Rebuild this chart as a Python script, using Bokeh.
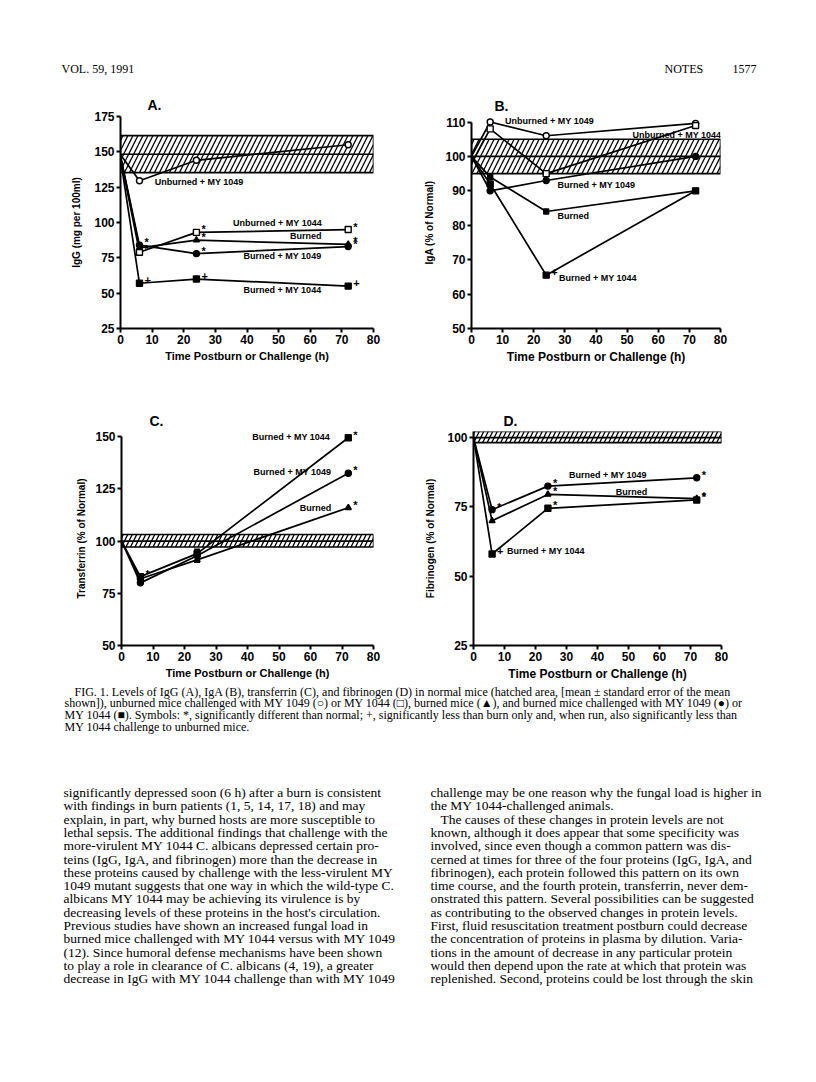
from bokeh.plotting import figure
from bokeh.models import Range1d, FixedTicker
from bokeh.layouts import column, row
from bokeh.embed import file_html
from bokeh.resources import INLINE
from bokeh.core.properties import value

# ---------------- data ----------------
TIME = [0, 6, 24, 72]
X_TICKS = [0, 10, 20, 30, 40, 50, 60, 70, 80]

# Panel A: IgG (mg per 100ml)
A_unb1049 = [148, 129.5, 144, 155]
A_unb1044 = [146, 79, 93, 95]
A_burned = [147, 82, 87.5, 84.5]
A_b1049 = [147, 84, 78, 83]
A_b1044 = [145, 57, 60, 55]
A_normal = [135.3, 148.3, 161.5]      # low, mean, high
A_sig_unb1044 = ["", "*", "*", "*"]
A_sig_burned = ["", "", "*", "*"]
A_sig_b1049 = ["", "*", "*", "*"]
A_sig_b1044 = ["", "+", "+", "+"]
A_yticks = [25, 50, 75, 100, 125, 150, 175]

# Panel B: IgA (% of Normal)
B_unb1049 = [100, 110, 106, 109.6]
B_unb1044 = [98, 108, 95, 109]
B_burned = [100, 94, 84, 90]
B_b1049 = [100, 90, 93, 100]
B_b1044 = [100, 92, 65.5, 90]
B_normal = [95, 100, 105]
B_sig_b1044 = ["", "", "+", ""]
B_yticks = [50, 60, 70, 80, 90, 100, 110]

# Panel C: Transferrin (% of Normal)
C_burned = [100, 82, 91, 116]
C_b1049 = [100, 80, 93, 132.5]
C_b1044 = [100, 83, 94, 149.5]
C_burned_err = [90, 96]               # s.e. bar at 24 h
C_normal = [97.2, 100, 103.2]
C_sig_burned = ["", "", "", "*"]
C_sig_b1049 = ["", "", "", "*"]
C_sig_b1044 = ["", "*", "", "*"]
C_yticks = [50, 75, 100, 125, 150]

# Panel D: Fibrinogen (% of Normal)
D_burned = [100, 70, 79.5, 78]
D_b1049 = [100, 74, 82.5, 85.5]
D_b1044 = [100, 58, 74.5, 77.5]
D_normal = [98.2, 100, 102.2]
D_sig_burned = ["", "", "*", "*"]
D_sig_b1049 = ["", "*", "*", "*"]
D_sig_b1044 = ["", "+", "*", "*"]
D_yticks = [25, 50, 75, 100]

XTITLE = "Time Postburn or Challenge (h)"

HEADER_LEFT = "VOL. 59, 1991"
HEADER_MID = "NOTES"
HEADER_PAGE = "1577"

CAPTION = [
    "FIG. 1.  Levels of IgG (A), IgA (B), transferrin (C), and fibrinogen (D) in normal mice (hatched area, [mean \u00b1 standard error of the mean",
    "shown]), unburned mice challenged with MY 1049 (\u25cb) or MY 1044 (\u25a1), burned mice (\u25b2), and burned mice challenged with MY 1049 (\u25cf) or",
    "MY 1044 (\u25a0). Symbols: *, significantly different than normal; +, significantly less than burn only and, when run, also significantly less than",
    "MY 1044 challenge to unburned mice.",
]

BODY_LEFT = [
    "significantly depressed soon (6 h) after a burn is consistent",
    "with findings in burn patients (1, 5, 14, 17, 18) and may",
    "explain, in part, why burned hosts are more susceptible to",
    "lethal sepsis. The additional findings that challenge with the",
    "more-virulent MY 1044 C. albicans depressed certain pro-",
    "teins (IgG, IgA, and fibrinogen) more than the decrease in",
    "these proteins caused by challenge with the less-virulent MY",
    "1049 mutant suggests that one way in which the wild-type C.",
    "albicans MY 1044 may be achieving its virulence is by",
    "decreasing levels of these proteins in the host's circulation.",
    "Previous studies have shown an increased fungal load in",
    "burned mice challenged with MY 1044 versus with MY 1049",
    "(12). Since humoral defense mechanisms have been shown",
    "to play a role in clearance of C. albicans (4, 19), a greater",
    "decrease in IgG with MY 1044 challenge than with MY 1049",
]

BODY_RIGHT = [
    "challenge may be one reason why the fungal load is higher in",
    "the MY 1044-challenged animals.",
    "The causes of these changes in protein levels are not",
    "known, although it does appear that some specificity was",
    "involved, since even though a common pattern was dis-",
    "cerned at times for three of the four proteins (IgG, IgA, and",
    "fibrinogen), each protein followed this pattern on its own",
    "time course, and the fourth protein, transferrin, never dem-",
    "onstrated this pattern. Several possibilities can be suggested",
    "as contributing to the observed changes in protein levels.",
    "First, fluid resuscitation treatment postburn could decrease",
    "the concentration of proteins in plasma by dilution. Varia-",
    "tions in the amount of decrease in any particular protein",
    "would then depend upon the rate at which that protein was",
    "replenished. Second, proteins could be lost through the skin",
]
BODY_RIGHT_INDENT = [0, 0, 1, 0, 0, 0, 0, 0, 0, 0, 0, 0, 0, 0, 0]   # paragraph starts

SANS = "Liberation Sans"
SERIF = "Liberation Serif"


# ---------------- helpers ----------------
def panel(width, height, yr, ybounds, borders, title, title_offset, title_standoff,
          ytitle, yticks, ylab_standoff, xtitle_size):
    left, right, top, bottom = borders
    p = figure(width=width, height=height, x_range=Range1d(0, 80), y_range=Range1d(*yr),
               output_backend="svg", toolbar_location=None,
               min_border_left=left, min_border_right=right,
               min_border_top=top, min_border_bottom=bottom)
    p.grid.visible = False
    p.outline_line_color = None
    p.background_fill_color = "white"
    p.border_fill_color = "white"
    p.xaxis.ticker = FixedTicker(ticks=X_TICKS)
    p.yaxis.ticker = FixedTicker(ticks=yticks)
    p.yaxis.bounds = ybounds
    for ax in p.axis:
        ax.axis_line_width = 2
        ax.axis_line_color = "black"
        ax.major_tick_line_width = 2
        ax.major_tick_line_color = "black"
        ax.major_tick_in = 0
        ax.major_tick_out = 4
        ax.minor_tick_line_color = None
        ax.major_label_text_font = SANS
        ax.major_label_text_font_size = "12px"
        ax.major_label_text_font_style = "bold"
        ax.major_label_text_color = "black"
        ax.major_label_standoff = 2
        ax.axis_label_text_font = SANS
        ax.axis_label_text_font_style = "bold"
        ax.axis_label_text_color = "black"
    p.xaxis.axis_label = XTITLE
    p.xaxis.axis_label_text_font_size = xtitle_size
    p.xaxis.axis_label_standoff = 3
    p.yaxis.axis_label = ytitle
    p.yaxis.axis_label_text_font_size = "10px"
    p.yaxis.axis_label_standoff = ylab_standoff
    p.title.text = title
    p.title.align = "left"
    p.title.offset = title_offset
    p.title.standoff = title_standoff
    p.title.text_font = SANS
    p.title.text_font_size = "14px"
    p.title.text_font_style = "bold"
    p.title.text_color = "black"
    return p


def band(p, lo_mean_hi, hatch_scale):
    lo, mean, hi = lo_mean_hi
    p.quad(left=[0], right=[80], bottom=[lo], top=[hi], fill_color="white",
           line_color="black", line_width=1.6, hatch_pattern="/",
           hatch_color="black", hatch_weight=1.3, hatch_scale=hatch_scale)
    p.segment(x0=[0], x1=[80], y0=[mean], y1=[mean], line_color="black", line_width=1.6)


def series(p, ys, marker, filled, sig=None, dx=5, dy=-3, size=6):
    p.line(TIME, ys, line_color="black", line_width=1.7)
    p.scatter(TIME[1:], ys[1:], marker=marker, size=size, line_color="black",
              line_width=1.4, fill_color="black" if filled else "white")
    if sig:
        p.text(TIME, ys, text=sig, x_offset=dx, y_offset=dy, text_font=value(SANS),
               text_font_size="11px", text_font_style="bold", text_color="black",
               text_baseline="middle", text_align="left")


def label(p, x, y, txt):
    p.text(x=[x], y=[y], text=[txt], text_font=value(SANS), text_font_size="9px",
           text_font_style="bold", text_color="black", text_baseline="middle",
           text_align="left")


def text_fig(w, h):
    p = figure(width=w, height=h, x_range=Range1d(0, w), y_range=Range1d(h, 0),
               x_axis_type=None, y_axis_type=None, output_backend="svg",
               toolbar_location=None, min_border=0)
    p.grid.visible = False
    p.outline_line_color = None
    return p


def lines(p, xs, ys, texts, size, font=SERIF):
    p.text(x=xs, y=ys, text=texts, text_font=value(font), text_font_size=size,
           text_color="black", text_baseline="middle", text_align="left")


# ---------------- header ----------------
hdr = text_fig(800, 84)
lines(hdr, [61], [68], [HEADER_LEFT], "12px")
lines(hdr, [664], [68], [HEADER_MID], "12px")
lines(hdr, [732], [68], [HEADER_PAGE], "12px")

# ---------------- panel A ----------------
pA = panel(408, 303, (25, 175), (25, 175), (120, 35, 32, 59), "A.", 27, 8,
           "IgG (mg per 100ml)", A_yticks, 9, "11px")
band(pA, A_normal, 10)
series(pA, A_unb1049, "circle", False)
series(pA, A_unb1044, "square", False, A_sig_unb1044)
series(pA, A_burned, "triangle", True, A_sig_burned)
series(pA, A_b1049, "circle", True, A_sig_b1049)
series(pA, A_b1044, "square", True, A_sig_b1044)
label(pA, 10.8, 128.6, "Unburned + MY 1049")
label(pA, 35.6, 99.8, "Unburned + MY 1044")
label(pA, 53.6, 90.3, "Burned")
label(pA, 38.9, 76.6, "Burned + MY 1049")
label(pA, 38.9, 52.1, "Burned + MY 1044")

# ---------------- panel B ----------------
pB = panel(392, 303, (50, 111.6), (50, 110), (63, 80, 26, 59), "B.", 23, 5,
           "IgA (% of Normal)", B_yticks, 7, "12px")
band(pB, B_normal, 10)
series(pB, B_unb1049, "circle", False)
series(pB, B_unb1044, "square", False)
series(pB, B_burned, "square", True, size=5)
series(pB, B_b1049, "circle", True)
series(pB, B_b1044, "square", True, B_sig_b1044)
label(pB, 10.8, 110.2, "Unburned + MY 1049")
label(pB, 51.7, 106.3, "Unburned + MY 1044")
label(pB, 27.6, 91.6, "Burned + MY 1049")
label(pB, 27.6, 82.7, "Burned")
label(pB, 28.1, 64.7, "Burned + MY 1044")

# ---------------- panel C ----------------
pC = panel(408, 296, (50, 152.5), (50, 150), (121, 35, 44, 36), "C.", 28, 6,
           "Transferrin (% of Normal)", C_yticks, 5, "11px")
band(pC, C_normal, 9)
series(pC, C_burned, "triangle", True, C_sig_burned)
series(pC, C_b1049, "circle", True, C_sig_b1049)
series(pC, C_b1044, "square", True, C_sig_b1044)
pC.segment(x0=[TIME[2]], x1=[TIME[2]], y0=[C_burned_err[0]], y1=[C_burned_err[1]],
           line_color="black", line_width=2)
pC.scatter([TIME[2], TIME[2]], C_burned_err, marker="dash", size=6, line_color="black",
           line_width=2)
label(pC, 41.5, 150, "Burned + MY 1044")
label(pC, 41.9, 133, "Burned + MY 1049")
label(pC, 56.6, 115.8, "Burned")

# ---------------- panel D ----------------
pD = panel(392, 296, (25, 102.2), (25, 102.2), (65, 79, 44, 36), "D.", 30, 5,
           "Fibrinogen (% of Normal)", D_yticks, 8, "12px")
band(pD, D_normal, 9)
series(pD, D_burned, "triangle", True, D_sig_burned)
series(pD, D_b1049, "circle", True, D_sig_b1049)
series(pD, D_b1044, "square", True, D_sig_b1044)
label(pD, 30.8, 86.6, "Burned + MY 1049")
label(pD, 45.9, 80.4, "Burned")
label(pD, 10.8, 59.2, "Burned + MY 1044")

# ---------------- caption + body ----------------
txt = text_fig(800, 383)
cap_y = [8 + 11.7 * i for i in range(len(CAPTION))]
cap_x = [74] + [64] * (len(CAPTION) - 1)
lines(txt, cap_x, cap_y, CAPTION, "12px")
body_y = [109 + 13.3 * i for i in range(len(BODY_LEFT))]
lines(txt, [63] * len(BODY_LEFT), body_y, BODY_LEFT, "13.5px")
lines(txt, [430 + 10 * k for k in BODY_RIGHT_INDENT], body_y, BODY_RIGHT, "13.5px")

layout = column(hdr, row(pA, pB), row(pC, pD), txt)
open("out.html", "w").write(file_html(layout, INLINE))
